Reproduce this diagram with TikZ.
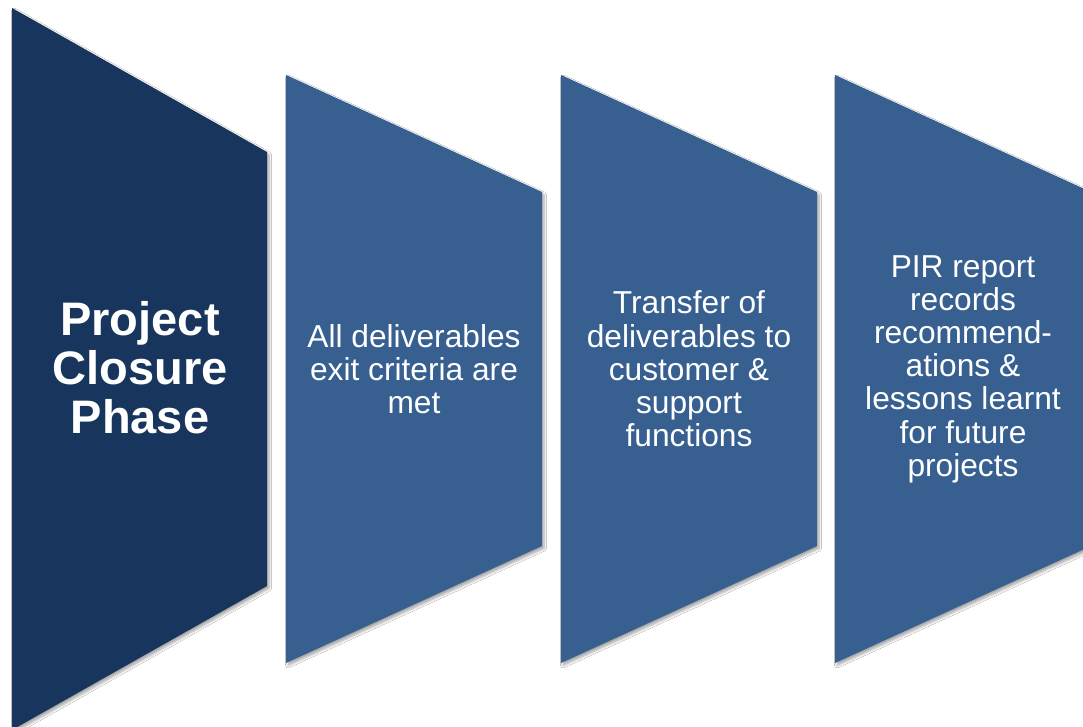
\documentclass[tikz,border=0pt]{standalone}
\usepackage{fontspec}
\setmainfont{Liberation Sans}
\usetikzlibrary{shadows.blur}
\definecolor{navy}{HTML}{18365D}
\definecolor{steel}{HTML}{376091}
\tikzset{
  chev/.style={fill=#1, draw=none, blur shadow={shadow xshift=2pt, shadow yshift=-2.5pt, shadow blur steps=6, shadow blur radius=2.5pt, shadow opacity=35}},
  bigtxt/.style={text=white, align=center, inner sep=0pt, font=\fontsize{47}{49}\selectfont\bfseries},
  smalltxt/.style={text=white, align=center, inner sep=0pt, font=\fontsize{31.7}{33.2}\selectfont}
}
\begin{document}
\begin{tikzpicture}[x=1pt,y=-1pt]
\useasboundingbox (0,0) rectangle (1083,727);
\clip (0,0) rectangle (1083,727);
\fill[white] (0,0) rectangle (1083,727);
\path[chev=navy] (12,8) -- (267,152) -- (267,586) -- (12,730) -- cycle;
\path[chev=steel] (286,75) -- (542,192) -- (542,546) -- (286,663) -- cycle;
\path[chev=steel] (561,75) -- (817,192) -- (817,546) -- (561,663) -- cycle;
\path[chev=steel] (835,75) -- (1091,192) -- (1091,546) -- (835,663) -- cycle;
\node[bigtxt] (t1) at (140,368) {Project\\Closure\\Phase};
\node[smalltxt] (t2) at (414,369) {All deliverables\\exit criteria are\\met};
\node[smalltxt] (t3) at (689,369) {Transfer of\\deliverables to\\customer \&\\support\\functions};
\node[smalltxt] (t4) at (963,369) {PIR report\\records\\recommend-\\ations \&\\lessons learnt\\for future\\projects};
\end{tikzpicture}
\end{document}
